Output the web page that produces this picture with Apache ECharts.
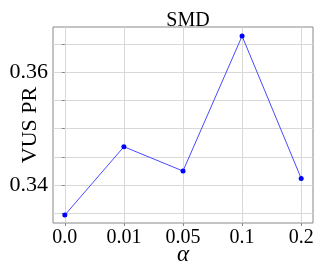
<!DOCTYPE html>
<html>
<head>
<meta charset="utf-8">
<script src="https://cdn.jsdelivr.net/npm/echarts@6/dist/echarts.min.js"></script>
<style>
html,body{margin:0;padding:0;background:#fff;}
#chart{width:324px;height:269px;}
</style>
</head>
<body>
<div id="chart"></div>
<script>
var title = 'SMD';
var alphaLabels = ['0.0', '0.01', '0.05', '0.1', '0.2'];
var vusPR = [0.3347, 0.3468, 0.3425, 0.3664, 0.3412];
var yTickValues = [0.335, 0.34, 0.345, 0.35, 0.355, 0.36, 0.365];
var yLabelValues = [0.34, 0.36];
var xTickValues = [0, 1, 2, 3, 4];

var FONT = '"Liberation Serif", "DejaVu Serif", serif';
var chart = echarts.init(document.getElementById('chart'), null, {renderer: 'canvas'});
chart.setOption({
  animation: false,
  backgroundColor: '#ffffff',
  title: {
    text: title,
    left: 183, textAlign: 'center',
    top: 6,
    textStyle: {fontFamily: FONT, fontSize: 20, fontWeight: 'normal', color: '#000'}
  },
  grid: {
    left: 53, right: 11, top: 27, bottom: 46,
    outerBoundsMode: 'none', containLabel: false,
    show: true, borderColor: '#888888', borderWidth: 1, backgroundColor: 'transparent'
  },
  xAxis: {
    type: 'value', min: -0.2, max: 4.2,
    name: 'α', nameLocation: 'middle', nameGap: 20, nameMoveOverlap: false,
    nameTextStyle: {fontFamily: FONT, fontSize: 23, fontStyle: 'italic', color: '#000'},
    axisLine: {show: false},
    axisTick: {show: true, customValues: xTickValues, length: 3, lineStyle: {color: '#888'}},
    axisLabel: {
      customValues: xTickValues, margin: 5,
      fontFamily: FONT, fontSize: 20, color: '#000',
      formatter: function (v) { return alphaLabels[Math.round(v)]; }
    },
    splitLine: {show: true, lineStyle: {color: '#d8d8d8', width: 1}}
  },
  yAxis: {
    type: 'value', min: 0.3333, max: 0.3680,
    name: 'VUS PR', nameLocation: 'middle', nameGap: 12, nameMoveOverlap: false,
    nameTextStyle: {fontFamily: FONT, fontSize: 22, color: '#000'},
    axisLine: {show: false},
    axisTick: {show: true, customValues: yTickValues, length: 3, lineStyle: {color: '#888'}},
    axisLabel: {
      customValues: yLabelValues, margin: 5,
      fontFamily: FONT, fontSize: 22, color: '#000',
      formatter: function (v) { return v.toFixed(2); }
    },
    splitLine: {show: true, lineStyle: {color: '#d8d8d8', width: 1}}
  },
  series: [{
    type: 'line',
    data: vusPR.map(function (v, i) { return [i, v]; }),
    symbol: 'circle', symbolSize: 5,
    itemStyle: {color: '#0000ff'},
    lineStyle: {color: '#4a4aff', width: 1},
    z: 5
  }]
});
</script>
</body>
</html>
